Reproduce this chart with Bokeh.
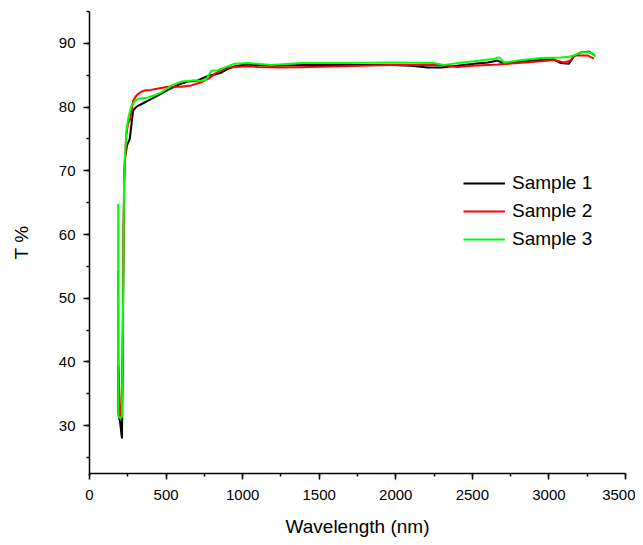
from bokeh.plotting import figure
from bokeh.models import Range1d, Legend, LegendItem, SingleIntervalTicker
from bokeh.embed import file_html
from bokeh.resources import INLINE

# ---- data ----
s1_x = [187, 188, 200, 212, 217, 222, 226, 232, 245, 263, 275, 285, 300, 317, 350, 383, 430, 469, 520, 580,
        640, 700, 773, 820, 860, 904, 950, 1000, 1100, 1200, 1400, 1650, 1970, 2100, 2208, 2300, 2400, 2512,
        2600, 2642, 2665, 2700, 2800, 2950, 3030, 3077, 3131, 3164, 3207, 3262, 3300]
s1_y = [39.4, 32.0, 30.5, 28.0, 40.0, 58.0, 68.5, 72.0, 74.0, 75.0, 77.5, 79.5, 79.9, 80.2, 80.6, 81.0, 81.6, 82.1, 82.8, 83.5,
        84.0, 84.1, 84.9, 85.1, 85.4, 86.0, 86.4, 86.6, 86.6, 86.5, 86.6, 86.6, 86.6, 86.5, 86.2, 86.2, 86.5, 86.8,
        87.0, 87.2, 87.3, 86.9, 87.1, 87.4, 87.5, 86.9, 86.8, 88.0, 88.6, 88.7, 88.1]

s2_x = [187, 189, 200, 210, 216, 222, 228, 240, 252, 263, 275, 285, 306, 330, 360, 400, 448, 513, 560, 600,
        665, 730, 780, 817, 860, 904, 950, 1035, 1100, 1252, 1450, 1643, 1969, 2150, 2295, 2403, 2500, 2664,
        2800, 2947, 3033, 3099, 3142, 3164, 3251, 3294]
s2_y = [54.3, 40.0, 31.5, 31.2, 42.0, 60.0, 70.0, 75.5, 77.4, 77.9, 79.5, 81.0, 81.8, 82.3, 82.6, 82.7, 82.9, 83.2, 83.2, 83.2,
        83.4, 83.9, 84.5, 85.2, 85.8, 86.2, 86.3, 86.4, 86.3, 86.2, 86.3, 86.4, 86.6, 86.6, 86.6, 86.3, 86.5, 86.7,
        86.9, 87.2, 87.4, 87.0, 87.3, 88.1, 88.1, 87.6]

s3_x = [187, 188, 200, 212, 217, 222, 226, 232, 241, 255, 274, 295, 317, 350, 383, 430, 469, 500, 535, 600,
        640, 686, 730, 760, 795, 839, 880, 948, 1035, 1100, 1186, 1382, 1643, 1969, 2251, 2316, 2400, 2512,
        2642, 2675, 2707, 2800, 2947, 3077, 3131, 3164, 3207, 3262, 3294, 3300]
s3_y = [64.8, 31.5, 31.2, 31.4, 42.0, 58.0, 68.5, 72.5, 76.3, 78.5, 80.2, 80.9, 81.3, 81.4, 81.5, 81.9, 82.3, 82.8, 83.4, 84.0,
        84.1, 84.2, 84.1, 84.3, 85.7, 85.8, 86.2, 86.8, 86.9, 86.8, 86.6, 86.9, 86.9, 87.0, 86.9, 86.6, 86.9, 87.2,
        87.6, 87.8, 87.0, 87.3, 87.7, 87.8, 87.9, 88.1, 88.6, 88.6, 88.3, 87.9]

series_names = ["Sample 1", "Sample 2", "Sample 3"]
series_colors = ["#000000", "#ff0000", "#00ff00"]

FONT = "Liberation Sans"

p = figure(width=635, height=543, output_backend="svg", toolbar_location=None,
           x_range=Range1d(0, 3500), y_range=Range1d(22.5, 95),
           min_border_left=89, min_border_right=10, min_border_top=11, min_border_bottom=70)
p.outline_line_color = None
p.xgrid.visible = False
p.ygrid.visible = False

lines = []
for xs, ys, c in zip([s1_x, s2_x, s3_x], [s1_y, s2_y, s3_y], series_colors):
    lines.append(p.line(xs, ys, line_color=c, line_width=2))

for ax in (p.xaxis[0], p.yaxis[0]):
    ax.axis_line_width = 1.5
    ax.axis_line_color = "black"
    ax.major_tick_line_width = 1.5
    ax.minor_tick_line_width = 1.5
    ax.major_tick_out = 6
    ax.major_tick_in = 0
    ax.minor_tick_out = 3
    ax.minor_tick_in = 0
    ax.major_label_text_font = FONT
    ax.major_label_text_font_size = "15px"
    ax.major_label_text_color = "black"
    ax.axis_label_text_font = FONT
    ax.axis_label_text_font_size = "19px"
    ax.axis_label_text_font_style = "normal"
    ax.axis_label_text_color = "black"

p.xaxis[0].ticker = SingleIntervalTicker(interval=500, num_minor_ticks=2)
p.yaxis[0].ticker = SingleIntervalTicker(interval=10, num_minor_ticks=2)
p.xaxis[0].axis_label = "Wavelength (nm)"
p.yaxis[0].axis_label = "T %"
p.xaxis[0].major_label_standoff = 10
p.xaxis[0].axis_label_standoff = 13
p.yaxis[0].major_label_standoff = 8
p.yaxis[0].axis_label_standoff = 24

legend = Legend(items=[LegendItem(label=n, renderers=[r]) for n, r in zip(series_names, lines)],
                location=(374, 223), padding=0, margin=0, spacing=6,
                glyph_width=42, glyph_height=20, label_height=20, label_standoff=7,
                label_text_font=FONT, label_text_font_size="19px", label_text_color="black",
                border_line_alpha=0, background_fill_alpha=0)
p.add_layout(legend)

open("out.html", "w").write(file_html(p, INLINE))
